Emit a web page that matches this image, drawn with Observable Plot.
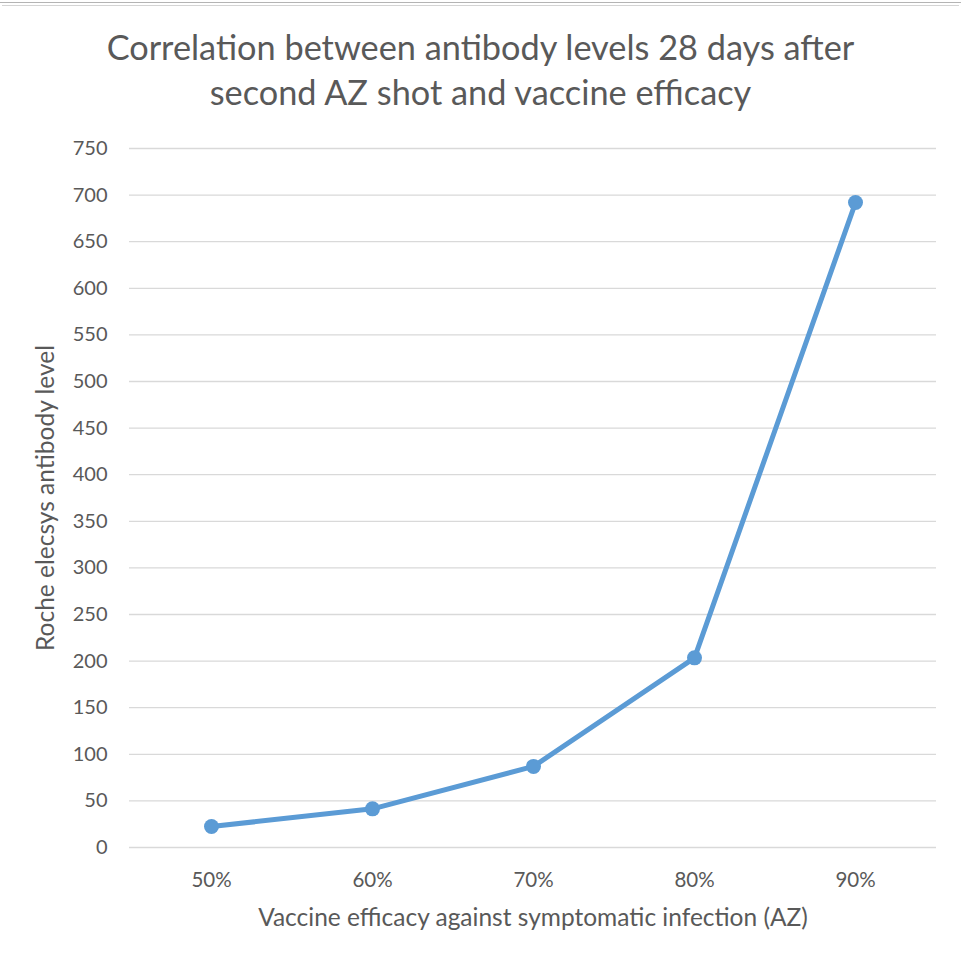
<!DOCTYPE html>
<html>
<head>
<meta charset="utf-8">
<script src="https://cdn.jsdelivr.net/npm/d3@7"></script>
<script src="https://cdn.jsdelivr.net/npm/@observablehq/plot@0.6"></script>
<style>
  html, body { margin: 0; padding: 0; background: #fff; }
  #wrap { position: relative; width: 961px; height: 960px; overflow: hidden; font-family: Lato, "Open Sans", sans-serif; }
  #topline1 { position: absolute; left: 0; top: 2px; width: 961px; height: 0; border-top: 1px solid #b4b4b4; }
  #topline2 { position: absolute; left: 2px; top: 5px; width: 957px; height: 0; border-top: 1px solid #d4d4d4; }
  #title { position: absolute; left: 0; top: 24px; width: 961px; text-align: center; color: #595959; font-size: 34.3px; line-height: 45px; }
  #chart { position: absolute; left: 0; top: 120px; }
</style>
</head>
<body>
<div id="wrap">
  <div id="topline1"></div>
  <div id="topline2"></div>
  <div id="title">Correlation between antibody levels 28 days after<br>second AZ shot and vaccine efficacy</div>
  <div id="chart"></div>
</div>
<script>
const efficacy = ["50%", "60%", "70%", "80%", "90%"];
const antibody = [22.5, 41.5, 87, 203.5, 692];
const yTicks = [0, 50, 100, 150, 200, 250, 300, 350, 400, 450, 500, 550, 600, 650, 700, 750];
const xTitle = "Vaccine efficacy against symptomatic infection (AZ)";
const yTitle = "Roche elecsys antibody level";

const data = efficacy.map((e, i) => ({ efficacy: e, value: antibody[i] }));
const color = "#5b9bd5";
const textColor = "#595959";

const chart = Plot.plot({
  width: 961,
  height: 840,
  marginLeft: 129,
  marginRight: 25,
  marginTop: 28,
  marginBottom: 113,
  style: { fontFamily: "Lato, 'Open Sans', sans-serif", color: textColor, background: "transparent" },
  x: { type: "point", domain: efficacy, padding: 0.5 },
  y: { domain: [0, 750] },
  marks: [
    Plot.ruleY(yTicks, { stroke: "#d9d9d9", strokeWidth: 1.3 }),
    Plot.axisY({ ticks: yTicks, tickSize: 0, tickPadding: 22, fontSize: 20, label: null, fill: textColor }),
    Plot.axisX({ tickSize: 0, tickPadding: 25, fontSize: 20.5, label: null, fill: textColor }),
    Plot.line(data, { x: "efficacy", y: "value", stroke: color, strokeWidth: 5 }),
    Plot.dot(data, { x: "efficacy", y: "value", r: 7.5, fill: color, stroke: null }),
    Plot.text([yTitle], { frameAnchor: "left", dx: -83, rotate: -90, textAnchor: "middle", fontSize: 24.5, fill: textColor }),
    Plot.text([xTitle], { frameAnchor: "bottom", dy: 78, fontSize: 24.5, fill: textColor })
  ]
});
document.getElementById("chart").appendChild(chart);
</script>
</body>
</html>
